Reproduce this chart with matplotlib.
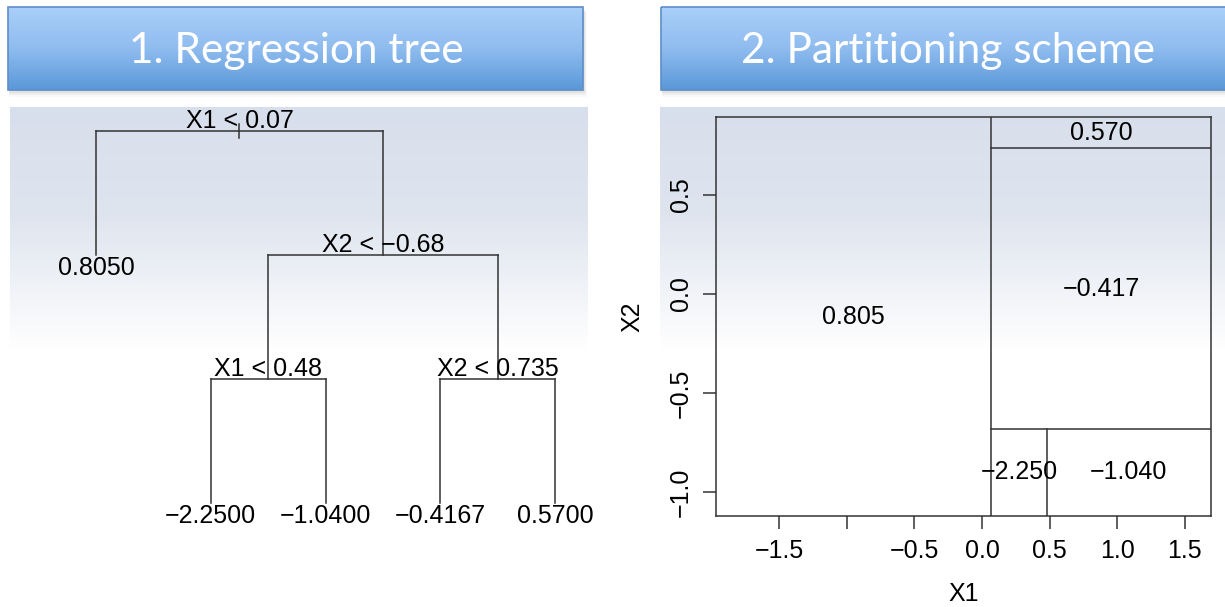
import numpy as np
import matplotlib
matplotlib.use('Agg')
import matplotlib.pyplot as plt
from matplotlib.colors import LinearSegmentedColormap
from matplotlib.patches import Rectangle

plt.rcParams['font.family'] = ['Liberation Sans', 'DejaVu Sans']

# ---- tree data ----
split_labels = ['X1 < 0.07', 'X2 < \u22120.68', 'X1 < 0.48', 'X2 < 0.735']
leaf_labels = ['0.8050', '\u22122.2500', '\u22121.0400', '\u22120.4167', '0.5700']
# node depth (drawing height) of each split and each leaf
split_depth = [0, 1, 2, 2]
leaf_depth = [1, 3, 3, 3, 3]
# children of each split: ('L', i) leaf, ('S', i) split
split_children = [
    [('L', 0), ('S', 1)],
    [('S', 2), ('S', 3)],
    [('L', 1), ('L', 2)],
    [('L', 3), ('L', 4)],
]

# ---- partition data ----
x1_split = 0.07
x2_low = -0.68
x2_high = 0.735
x1_low = 0.48
region_values = ['0.805', '\u22120.417', '0.570', '\u22122.250', '\u22121.040']
x_ticks = [-1.5, -1.0, -0.5, 0.0, 0.5, 1.0, 1.5]
x_ticklabels = ['\u22121.5', '', '\u22120.5', '0.0', '0.5', '1.0', '1.5']
y_ticks = [-1.0, -0.5, 0.0, 0.5]
y_ticklabels = ['\u22121.0', '\u22120.5', '0.0', '0.5']
x_lim = (-1.967, 1.694)
y_lim = (-1.121, 0.894)

W, H = 1225, 607
LINE = '#333333'
TXT = 18

fig = plt.figure(figsize=(W / 100, H / 100), dpi=100)
fig.patch.set_facecolor('white')

# background layer in pixel coordinates
bg = fig.add_axes([0, 0, 1, 1])
bg.set_xlim(0, W)
bg.set_ylim(H, 0)
bg.axis('off')

panel_cmap = LinearSegmentedColormap.from_list(
    'panel', [(0.0, '#d8dfec'), (0.45, '#dfe5ef'), (0.8, '#f3f5f9'), (1.0, '#ffffff')])
grad = np.linspace(0, 1, 256).reshape(-1, 1)
for x0, x1 in [(10, 588), (660, W)]:
    bg.imshow(grad, cmap=panel_cmap, aspect='auto', extent=(x0, x1, 350, 107),
              interpolation='bicubic', zorder=0)

title_cmap = LinearSegmentedColormap.from_list('title', ['#aacff9', '#8fbcef', '#5a98d9'])
titles = ['1. Regression tree', '2. Partitioning scheme']
title_boxes = [(8, 583), (661, 1240)]
title_centers = [296, 948]
for (x0, x1), xc, title in zip(title_boxes, title_centers, titles):
    # soft drop shadow
    for k, a in enumerate([0.10, 0.07, 0.05, 0.03]):
        bg.add_patch(Rectangle((x0 + 1, 9 + k), x1 - x0 + k, 82 + k,
                               facecolor='#404040', edgecolor='none', alpha=a, zorder=1))
    bg.imshow(grad, cmap=title_cmap, aspect='auto', extent=(x0, x1, 90, 7),
              interpolation='bicubic', zorder=2)
    bg.add_patch(Rectangle((x0, 7), x1 - x0, 83, facecolor='none',
                           edgecolor='#5d8fc8', lw=1.2, zorder=3))
    bg.text(xc, 51, title, color='white', fontsize=30.5,
            family=['Lato', 'DejaVu Sans'], ha='center', va='center', zorder=4)
bg.set_xlim(0, W)
bg.set_ylim(H, 0)

# ---- 1. regression tree ----
ax_t = fig.add_axes([10 / W, 1 - 560 / H, (594 - 10) / W, (560 - 107) / H])
ax_t.axis('off')
ax_t.patch.set_alpha(0)
leaf_x = np.arange(len(leaf_labels), dtype=float)


def node_x(kind, i):
    if kind == 'L':
        return leaf_x[i]
    (k1, i1), (k2, i2) = split_children[i]
    return (node_x(k1, i1) + node_x(k2, i2)) / 2


def node_depth(kind, i):
    return leaf_depth[i] if kind == 'L' else split_depth[i]


for s, children in enumerate(split_children):
    xs, ys = node_x('S', s), split_depth[s]
    cx = [node_x(k, i) for k, i in children]
    ax_t.plot([cx[0], cx[1]], [ys, ys], color=LINE, lw=1.1)
    for (k, i), x in zip(children, cx):
        ax_t.plot([x, x], [ys, node_depth(k, i)], color=LINE, lw=1.1)
    ax_t.annotate(split_labels[s], (xs, ys), xytext=(0, 2.5), textcoords='offset points',
                  ha='center', va='baseline', fontsize=TXT)

# short stem through the root
root_x = node_x('S', 0)
ax_t.plot([root_x, root_x], [-0.06, 0.06], color=LINE, lw=1.1)

for i, lab in enumerate(leaf_labels):
    ax_t.annotate(lab, (leaf_x[i], leaf_depth[i]), xytext=(0, -9.5), textcoords='offset points',
                  ha='center', va='center', fontsize=TXT)

ax_t.set_xlim((10 - 96) / 114.75, (594 - 96) / 114.75)
ax_t.set_ylim((560 - 131) / 124, (107 - 131) / 124)

# ---- 2. partitioning scheme ----
ax_p = fig.add_axes([716 / W, 1 - 516 / H, (1211 - 716) / W, (516 - 117) / H])
ax_p.patch.set_alpha(0)
ax_p.set_xlim(*x_lim)
ax_p.set_ylim(*y_lim)
for sp in ax_p.spines.values():
    sp.set_color(LINE)
    sp.set_linewidth(1.1)

ax_p.plot([x1_split, x1_split], y_lim, color=LINE, lw=1.1)
ax_p.plot([x1_split, x_lim[1]], [x2_high, x2_high], color=LINE, lw=1.1)
ax_p.plot([x1_split, x_lim[1]], [x2_low, x2_low], color=LINE, lw=1.1)
ax_p.plot([x1_low, x1_low], [y_lim[0], x2_low], color=LINE, lw=1.1)

centers = [
    ((x_lim[0] + x1_split) / 2, (y_lim[0] + y_lim[1]) / 2),
    ((x1_split + x_lim[1]) / 2, (x2_low + x2_high) / 2),
    ((x1_split + x_lim[1]) / 2, (x2_high + y_lim[1]) / 2),
    ((x1_split + x1_low) / 2, (y_lim[0] + x2_low) / 2),
    ((x1_low + x_lim[1]) / 2, (y_lim[0] + x2_low) / 2),
]
for (cx, cy), lab in zip(centers, region_values):
    ax_p.text(cx, cy, lab, ha='center', va='center', fontsize=TXT)

ax_p.set_xticks(x_ticks)
ax_p.set_xticklabels(x_ticklabels)
ax_p.set_yticks(y_ticks)
ax_p.set_yticklabels(y_ticklabels, rotation=90, va='center')
ax_p.tick_params(direction='out', length=9.5, width=1.1, color=LINE, labelsize=TXT, pad=7)
ax_p.set_xlabel('X1', fontsize=TXT, labelpad=14)
ax_p.set_ylabel('X2', fontsize=TXT, labelpad=18)

fig.savefig('out.png', dpi=100)
